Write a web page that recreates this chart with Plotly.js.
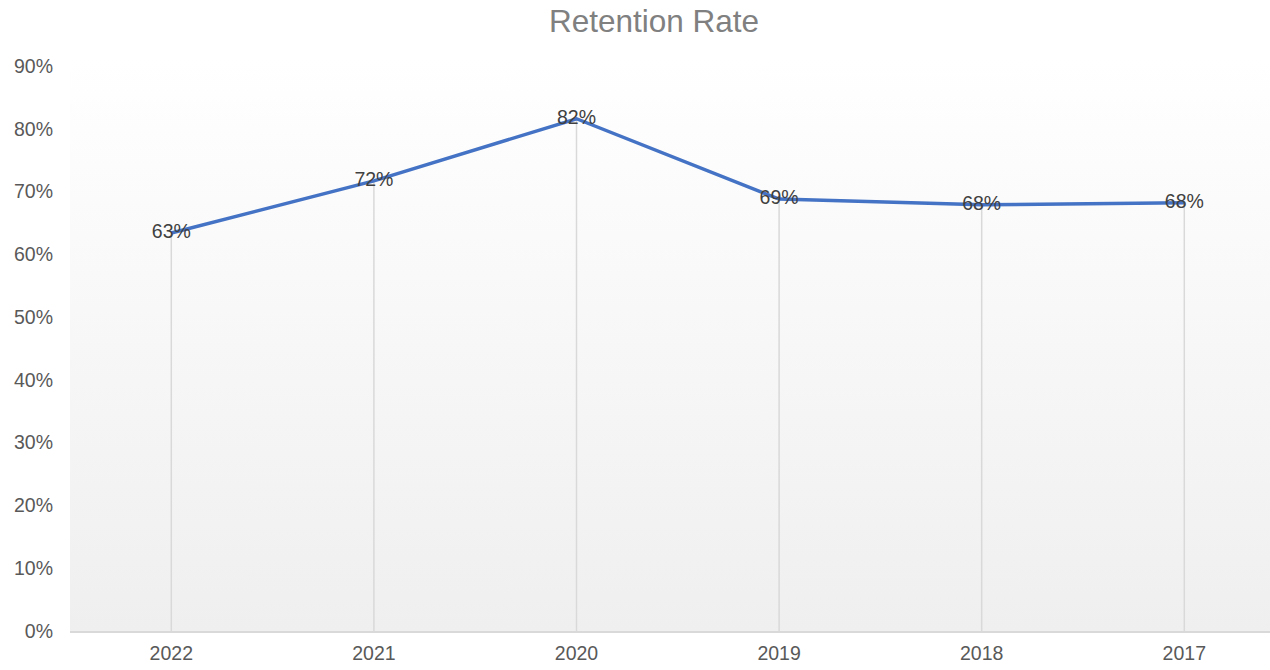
<!DOCTYPE html>
<html>
<head>
<meta charset="utf-8">
<script src="https://cdn.plot.ly/plotly-3.0.1.min.js"></script>
<style>
html,body{margin:0;padding:0;background:#fff;}
#wrap{position:relative;width:1270px;height:670px;}
#bg{position:absolute;left:70px;top:58px;width:1200px;height:573px;background:linear-gradient(to bottom,#ffffff 0%,#f7f7f7 50%,#efefef 100%);}
#chart{position:absolute;left:0;top:0;width:1270px;height:670px;}
</style>
</head>
<body>
<div id="wrap"><div id="bg"></div><div id="chart"></div></div>
<script>
const categories = ['2022','2021','2020','2019','2018','2017'];
const retention = [0.634, 0.717, 0.816, 0.688, 0.679, 0.682];
const labels = ['63%','72%','82%','69%','68%','68%'];
const yTickVals = [0,0.1,0.2,0.3,0.4,0.5,0.6,0.7,0.8,0.9];

const dropX = [], dropY = [];
categories.forEach((c,i)=>{ dropX.push(c,c,null); dropY.push(0,retention[i],null); });

const traces = [
  {x: dropX, y: dropY, mode:'lines', line:{color:'#d9d9d9', width:1.5}, hoverinfo:'skip', showlegend:false},
  {x: categories, y: retention, mode:'lines+text', text: labels, textposition:'middle center',
   textfont:{family:'Liberation Sans, Arial, sans-serif', size:19.5, color:'#404040'},
   line:{color:'#4472C4', width:3.5}, showlegend:false}
];

const layout = {
  width:1270, height:670,
  paper_bgcolor:'rgba(0,0,0,0)', plot_bgcolor:'rgba(0,0,0,0)',
  margin:{l:70, r:0, t:66, b:39},
  title:{text:'Retention Rate', x:0.515, xanchor:'center', y:0.968, yanchor:'middle',
         font:{family:'Liberation Sans, Arial, sans-serif', size:31.5, color:'#808080'}},
  xaxis:{type:'category', range:[-0.5, 5.423], showgrid:false, zeroline:false,
         showline:true, linecolor:'#d9d9d9', linewidth:1.5, ticks:'',
         tickfont:{family:'Liberation Sans, Arial, sans-serif', size:19.5, color:'#595959'},
         ticklabelstandoff:4},
  yaxis:{range:[0,0.9], tickvals:yTickVals, tickformat:'.0%', showgrid:false, zeroline:false,
         showline:false, ticks:'',
         tickfont:{family:'Liberation Sans, Arial, sans-serif', size:19.5, color:'#595959'},
         ticklabelstandoff:16}
};
Plotly.newPlot('chart', traces, layout, {displayModeBar:false, staticPlot:true});
</script>
</body>
</html>
